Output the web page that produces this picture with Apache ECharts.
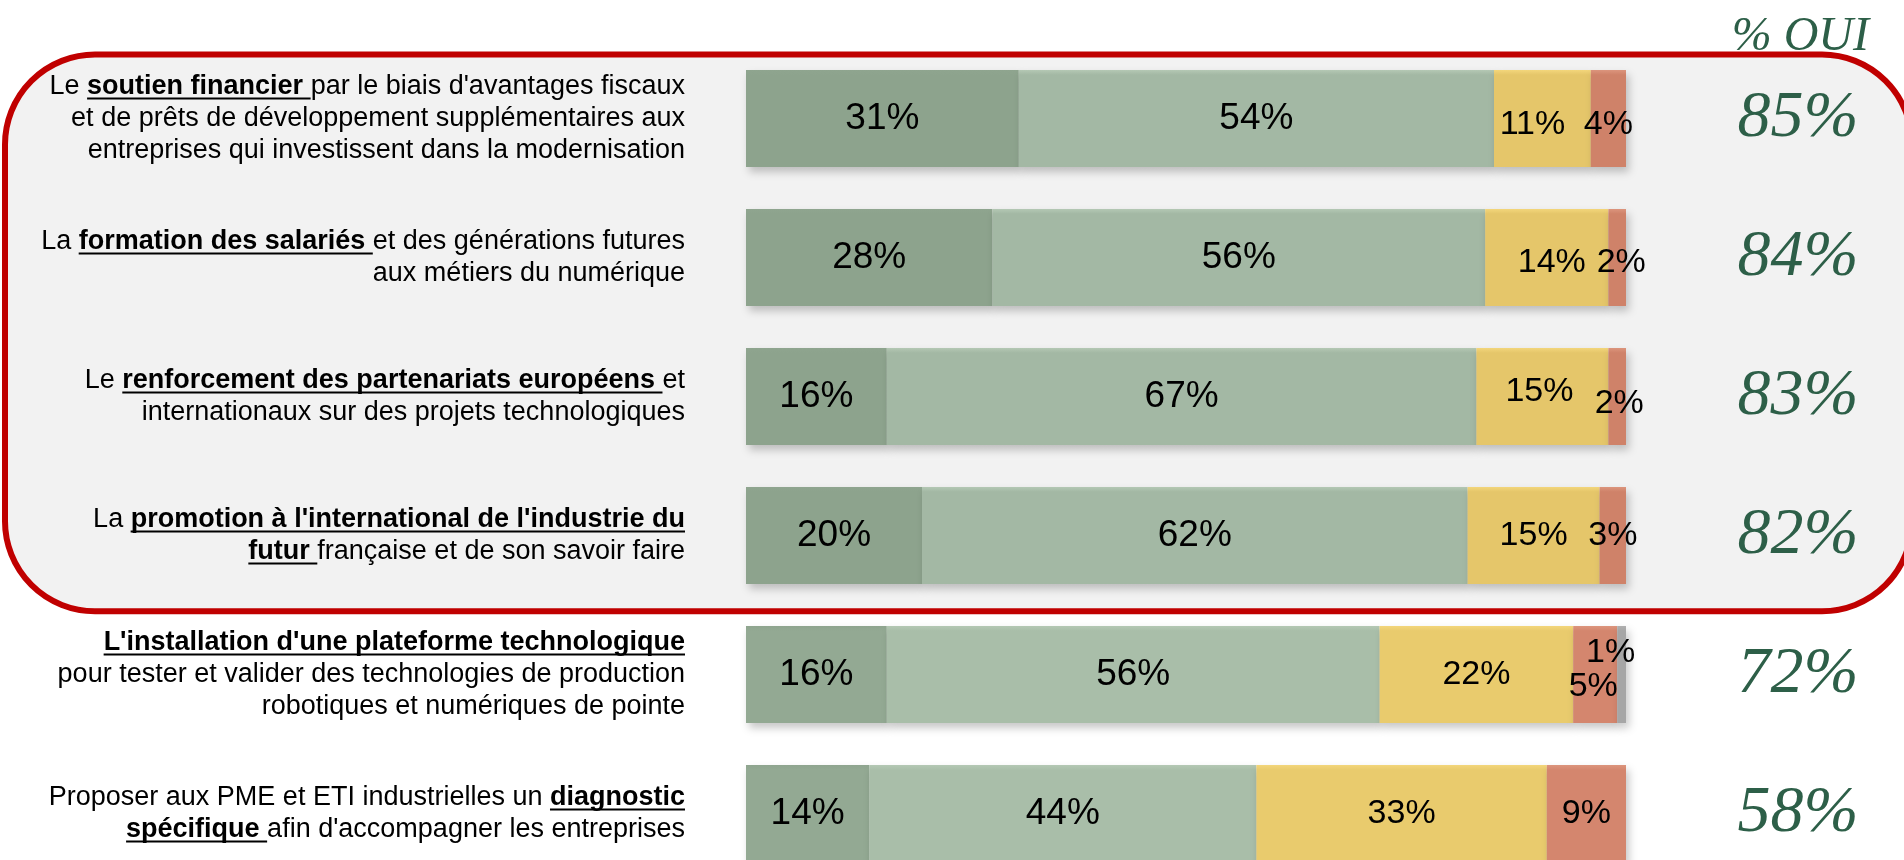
<!DOCTYPE html>
<html>
<head>
<meta charset="utf-8">
<script src="https://cdn.jsdelivr.net/npm/echarts@6/dist/echarts.min.js"></script>
<style>
  html, body { margin: 0; padding: 0; background: #fff; overflow: hidden; }
  #chart { width: 1904px; height: 860px; }
</style>
</head>
<body>
<div id="chart"></div>
<script>
// libellés : les passages entre * sont en gras souligné
const categories = [
  "Le *soutien financier *par le biais d'avantages fiscaux\net de prêts de développement supplémentaires aux\nentreprises qui investissent dans la modernisation",
  "La *formation des salariés *et des générations futures\naux métiers du numérique",
  "Le *renforcement des partenariats européens *et\ninternationaux sur des projets technologiques",
  "La *promotion à l'international de l'industrie du\nfutur *française et de son savoir faire",
  "*L'installation d'une plateforme technologique*\npour tester et valider des technologies de production\nrobotiques et numériques de pointe",
  "Proposer aux PME et ETI industrielles un *diagnostic\nspécifique *afin d'accompagner les entreprises"
]
const toutAFait = [31, 28, 16, 20, 16, 14]
const plutotOui = [54, 56, 67, 62, 56, 44]
const plutotNon = [11, 14, 15, 15, 22, 33]
const pasDuTout = [4, 2, 2, 3, 5, 9]
const nsp = [null, null, null, null, 1, null]
const totalOui = ['85%', '84%', '83%', '82%', '72%', '58%']
const seriesNames = ['Oui, tout à fait', 'Oui, plutôt', 'Non, plutôt pas', 'Non, pas du tout', 'NSP']

const FONT = 'Liberation Sans'
const LABEL_SIZE = 27
const LINE_H = 32
const LABEL_MARGIN = 61
const BOXED = 4 // les 4 premières mesures sont encadrées

// couleurs : [dans le cadre, hors cadre, reflet haut]
const palette = [
  ['#8da38d', '#93a993', '#8fa58f'],
  ['#a3b8a4', '#a9bea9', '#b4c8b4'],
  ['#e5c66a', '#e9cb6d', '#f3d67b'],
  ['#cf8269', '#d4866e', '#dc957d'],
  ['#a6a6a6', '#a6a6a6', '#b0b0b0']
]
// petits décalages des étiquettes comme sur l'original
const nudges = {
  '2-0': [-10, 6], '3-0': [0, 6],
  '2-1': [5, 5], '3-1': [4, 5],
  '2-2': [-3, -5], '3-2': [2, 7],
  '3-4': [-2, 12], '4-4': [-11, -22]
}

function parseLabel (str) {
  let bold = false
  let lines = [[]]
  let cur = ''
  const flush = () => { if (cur) lines[lines.length - 1].push({ t: cur, b: bold }); cur = '' }
  for (const ch of str) {
    if (ch === '*') { flush(); bold = !bold }
    else if (ch === '\n') { flush(); lines.push([]) }
    else cur += ch
  }
  flush()
  return lines
}
const parsed = categories.map(parseLabel)
function toRich (str) {
  const lines = parsed[categories.indexOf(str)]
  return lines.map(segs => segs.map(s => '{' + (s.b ? 'b' : 'n') + '|' + s.t + '}').join('')).join('\n')
}

function fill (s, i) {
  const p = palette[s]
  const base = i < BOXED ? p[0] : p[1]
  return new echarts.graphic.LinearGradient(0, 0, 0, 1, [
    { offset: 0, color: p[2] },
    { offset: 0.05, color: base },
    { offset: 1, color: base }
  ])
}

const values = [toutAFait, plutotOui, plutotNon, pasDuTout, nsp]
const series = values.map((vals, s) => ({
  name: seriesNames[s],
  type: 'bar',
  stack: 'total',
  barWidth: 97,
  data: vals.map((v, i) => {
    const item = { value: v, itemStyle: { color: fill(s, i) } }
    const off = nudges[s + '-' + i]
    if (off) item.label = { offset: off }
    return item
  }),
  label: {
    show: true,
    position: 'inside',
    fontFamily: FONT,
    fontSize: s < 2 ? 37 : 34,
    color: '#000',
    formatter: p => p.value == null ? '' : p.value + '%'
  },
  itemStyle: {
    shadowBlur: 8,
    shadowColor: 'rgba(0,0,0,0.22)',
    shadowOffsetX: 3,
    shadowOffsetY: 5
  }
}))

const chart = echarts.init(document.getElementById('chart'))
const option = {
  animation: false,
  title: {
    text: '% OUI',
    right: 30,
    top: 8,
    textStyle: {
      fontFamily: 'Liberation Serif',
      fontStyle: 'italic',
      fontWeight: 'normal',
      fontSize: 48,
      color: '#2d5f48'
    }
  },
  // la dernière barre dépasse le bas de la fenêtre, comme sur l'original
  grid: { left: 746, right: 278, top: 49, height: 834, outerBoundsMode: 'none', containLabel: false },
  xAxis: { type: 'value', min: 0, max: 100, show: false },
  yAxis: [
    {
      type: 'category',
      inverse: true,
      data: categories,
      axisLine: { show: false },
      axisTick: { show: false },
      axisLabel: {
        interval: 0,
        margin: LABEL_MARGIN,
        lineHeight: LINE_H,
        formatter: toRich,
        rich: {
          n: { fontFamily: FONT, fontSize: LABEL_SIZE, lineHeight: LINE_H, color: '#000' },
          b: { fontFamily: FONT, fontSize: LABEL_SIZE, lineHeight: LINE_H, fontWeight: 'bold', color: '#000' }
        }
      }
    },
    {
      type: 'category',
      inverse: true,
      position: 'right',
      data: totalOui,
      axisLine: { show: false },
      axisTick: { show: false },
      axisLabel: {
        interval: 0,
        margin: 172,
        align: 'center',
        padding: [8, 0, 0, 0],
        fontFamily: 'Liberation Serif',
        fontStyle: 'italic',
        fontSize: 66,
        color: '#2d5f48'
      }
    }
  ],
  series: series
}
chart.setOption(option)

// cadre rouge et soulignements, placés à partir des axes
function decorate () {
  const yOf = i => chart.convertToPixel({ yAxisIndex: 0 }, i)
  const band = yOf(1) - yOf(0)
  const x0 = chart.convertToPixel({ xAxisIndex: 0 }, 0)
  const right = x0 - LABEL_MARGIN
  const ctx = document.createElement('canvas').getContext('2d')
  const measure = (t, b) => {
    ctx.font = (b ? 'bold ' : '') + LABEL_SIZE + 'px ' + FONT
    return ctx.measureText(t).width
  }
  const top = yOf(0) - band * 0.46
  const bottom = yOf(BOXED - 1) + band * 0.545
  const elements = [{
    type: 'rect',
    z: -10,
    silent: true,
    shape: { x: 5, y: top, width: chart.getWidth() + 3, height: bottom - top, r: 90 },
    style: { fill: '#f2f2f2', stroke: '#c00000', lineWidth: 6 }
  }]
  parsed.forEach((lines, i) => {
    const n = lines.length
    lines.forEach((segs, j) => {
      const cy = yOf(i) + (j - (n - 1) / 2) * LINE_H
      const w = segs.reduce((a, s) => a + measure(s.t, s.b), 0)
      let x = right - w
      segs.forEach(s => {
        const sw = measure(s.t, s.b)
        if (s.b) {
          elements.push({
            type: 'line',
            silent: true,
            z: 10,
            shape: { x1: x, y1: cy + 12, x2: x + sw, y2: cy + 12 },
            style: { stroke: '#000', lineWidth: 2 }
          })
        }
        x += sw
      })
    })
  })
  chart.setOption({ graphic: { elements: elements } })
}
decorate()
</script>
</body>
</html>
